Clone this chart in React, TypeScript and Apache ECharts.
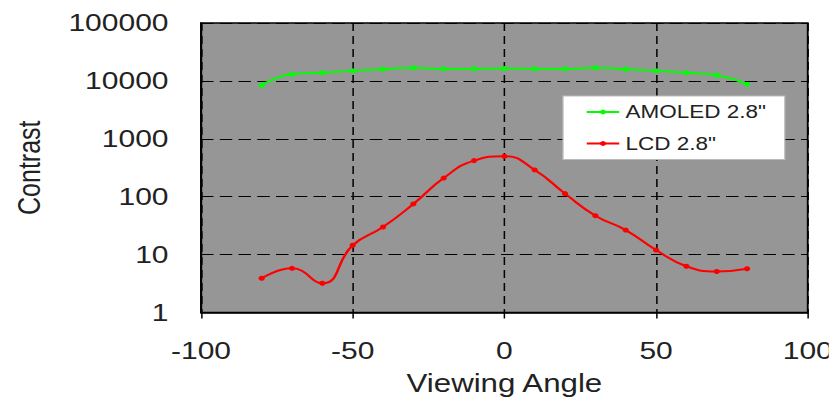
import React, { useEffect, useRef } from "react";
import * as echarts from "echarts";

// ---- data ----
const angles = [-80, -70, -60, -50, -40, -30, -20, -10, 0, 10, 20, 30, 40, 50, 60, 70, 80];
const amoledContrast = [8400, 13000, 13800, 14900, 15900, 16800, 16100, 16100, 16300, 16100, 16100, 16800, 15900, 14900, 13800, 12500, 8700];
const lcdContrast = [3.9, 5.8, 3.2, 14.5, 30, 75, 210, 420, 500, 290, 113, 47, 26.5, 12, 6.3, 5.1, 5.7];
const seriesNames = ['AMOLED 2.8"', 'LCD 2.8"'];
const xTicks = [-100, -50, 0, 50, 100];
const yTickLabels = ["1", "10", "100", "1000", "10000", "100000"];

const FONT = "'Liberation Sans', Arial, Helvetica, sans-serif";
const S = 1.25; // horizontal stretch of the reference picture
const W = 829;
const H = 405;

export default function App() {
  const ref = useRef<HTMLDivElement>(null);

  useEffect(() => {
    if (!ref.current) return;
    const chart = echarts.init(ref.current, null, { renderer: "svg" });
    chart.setOption({
      animation: false,
      backgroundColor: "#ffffff",
      textStyle: { fontFamily: FONT },
      grid: {
        left: 160.8,
        right: 16.8,
        top: 23,
        bottom: 92.5,
        show: true,
        backgroundColor: "#969696",
        borderColor: "#000",
        borderWidth: 1.5,
        containLabel: false,
        outerBoundsMode: "none",
      },
      legend: {
        orient: "vertical",
        left: 450.4,
        top: 96,
        padding: [7, 15, 7, 18],
        itemWidth: 26,
        itemHeight: 6,
        itemGap: 13.5,
        backgroundColor: "#ffffff",
        borderColor: "#bbbbbb",
        borderWidth: 1,
        borderRadius: 0,
        textStyle: { fontSize: 18, color: "#222", fontFamily: FONT },
        data: seriesNames,
      },
      xAxis: {
        type: "value",
        min: xTicks[0],
        max: xTicks[xTicks.length - 1],
        interval: xTicks[1] - xTicks[0],
        name: "Viewing Angle",
        nameLocation: "middle",
        nameGap: 58,
        nameTextStyle: { fontSize: 25, color: "#222", fontFamily: FONT },
        axisLine: { show: true, onZero: false, lineStyle: { color: "#000", width: 1.5 } },
        axisTick: { show: true, length: 6, lineStyle: { color: "#000", width: 1.2 } },
        axisLabel: { fontSize: 24, color: "#222", margin: 26, fontFamily: FONT },
        splitLine: { show: true, lineStyle: { color: "#000", width: 1.2, type: [8, 5] } },
      },
      yAxis: {
        type: "log",
        logBase: 10,
        min: 1,
        max: 100000,
        name: "Contrast",
        nameLocation: "middle",
        nameGap: 125,
        nameRotate: 90,
        nameTextStyle: { fontSize: 25, color: "#222", fontFamily: FONT },
        axisLine: { show: true, onZero: false, lineStyle: { color: "#000", width: 1.5 } },
        axisTick: { show: false },
        axisLabel: {
          fontSize: 24,
          color: "#222",
          margin: 26,
          fontFamily: FONT,
          formatter: (v: number) => yTickLabels[Math.round(Math.log10(v))] ?? String(v),
        },
        splitLine: { show: true, lineStyle: { color: "#000", width: 1.2, type: [10, 5] } },
      },
      series: [
        {
          type: "line",
          name: seriesNames[0],
          data: angles.map((a, i) => [a, amoledContrast[i]]),
          smooth: true,
          symbol: "circle",
          symbolSize: 5,
          lineStyle: { color: "#00ff00", width: 2 },
          itemStyle: { color: "#00ff00" },
          z: 3,
        },
        {
          type: "line",
          name: seriesNames[1],
          data: angles.map((a, i) => [a, lcdContrast[i]]),
          smooth: true,
          symbol: "circle",
          symbolSize: 5,
          lineStyle: { color: "#ff0000", width: 2 },
          itemStyle: { color: "#ff0000" },
          z: 3,
        },
      ],
    });
    return () => chart.dispose();
  }, []);

  return (
    <div
      style={{
        position: "absolute",
        left: 0,
        top: 0,
        width: W,
        height: H,
        overflow: "hidden",
        background: "#fff",
      }}
    >
      <div
        ref={ref}
        style={{
          width: W / S,
          height: H,
          transform: `scaleX(${S})`,
          transformOrigin: "0 0",
        }}
      />
    </div>
  );
}
